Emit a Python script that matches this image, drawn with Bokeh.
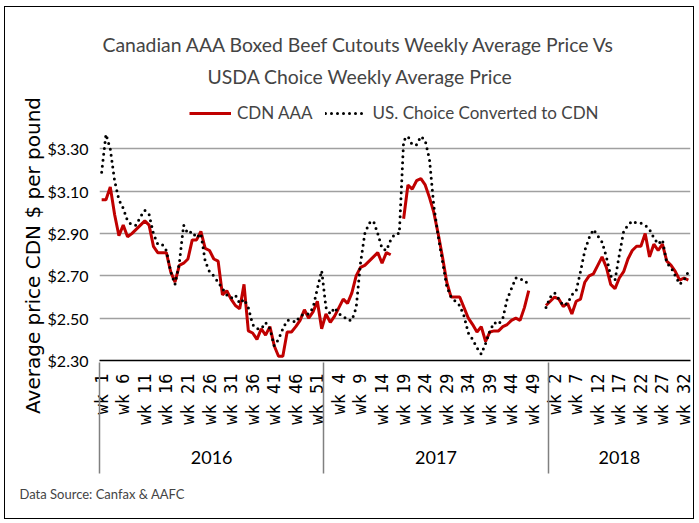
import math
import numpy as np
from bokeh.plotting import figure
from bokeh.models import (Range1d, LinearAxis, FixedTicker, NumeralTickFormatter,
                          Legend, LegendItem, Title)
from bokeh.embed import file_html
from bokeh.resources import INLINE

# ---------------- data ----------------
years = ["2016", "2017", "2018"]
weeks_per_year = [52, 52, 33]
y_ticks = [2.30, 2.50, 2.70, 2.90, 3.10, 3.30]

cdn_aaa_2016 = [3.06, 3.06, 3.12, 2.99, 2.89, 2.94, 2.885, 2.90, 2.92, 2.94,
                2.96, 2.94, 2.84, 2.81, 2.81, 2.81, 2.72, 2.67, 2.75, 2.76,
                2.78, 2.87, 2.87, 2.91, 2.83, 2.82, 2.78, 2.77, 2.61, 2.63,
                2.59, 2.56, 2.545, 2.66, 2.44, 2.43, 2.40, 2.45, 2.42, 2.46,
                2.37, 2.32, 2.32, 2.435, 2.435, 2.46, 2.49, 2.54, 2.50, 2.53,
                2.58, 2.45]
cdn_aaa_2017 = [2.52, 2.48, 2.51, 2.55, 2.59, 2.57, 2.62, 2.70, 2.74, 2.75,
                2.77, 2.79, 2.81, 2.76, 2.81, 2.80, None, None, 2.97, 3.13,
                3.11, 3.15, 3.16, 3.13, 3.07, 3.00, 2.90, 2.79, 2.67, 2.60,
                2.60, 2.60, 2.55, 2.50, 2.47, 2.435, 2.46, 2.39, 2.435, 2.44,
                2.44, 2.46, 2.47, 2.49, 2.50, 2.49, 2.55, 2.63, None, None,
                None, 2.56]
cdn_aaa_2018 = [2.58, 2.60, 2.59, 2.555, 2.57, 2.52, 2.58, 2.59, 2.67, 2.70,
                2.71, 2.75, 2.79, 2.74, 2.66, 2.64, 2.69, 2.72, 2.78, 2.82,
                2.84, 2.84, 2.90, 2.79, 2.85, 2.82, 2.85, 2.77, 2.75, 2.72,
                2.68, 2.69, 2.68]

us_choice_2016 = [3.19, 3.37, 3.30, 3.15, 3.06, 3.02, 2.96, 2.94, 2.94, 2.98,
                  3.01, 2.99, 2.90, 2.85, 2.85, 2.82, 2.72, 2.66, 2.76, 2.94,
                  2.90, 2.91, 2.88, 2.90, 2.77, 2.72, 2.70, 2.67, 2.64, 2.61,
                  2.595, 2.61, 2.57, 2.59, 2.55, 2.47, 2.45, 2.45, 2.48, 2.45,
                  2.37, 2.40, 2.45, 2.49, 2.49, 2.48, 2.51, 2.52, 2.52, 2.55,
                  2.64, 2.725]
us_choice_2017 = [2.55, 2.52, 2.55, 2.52, 2.51, 2.49, 2.49, 2.55, 2.76, 2.90,
                  2.95, 2.96, 2.90, 2.83, 2.82, 2.87, 2.90, 2.90, 3.34, 3.36,
                  3.32, 3.32, 3.36, 3.34, 3.25, 3.03, 2.89, 2.77, 2.65, 2.60,
                  2.58, 2.56, 2.51, 2.43, 2.40, 2.36, 2.33, 2.38, 2.44, 2.48,
                  2.47, 2.50, 2.59, 2.64, 2.69, 2.69, 2.67, 2.67, None, None,
                  None, 2.55]
us_choice_2018 = [2.60, 2.62, 2.59, 2.56, 2.57, 2.61, 2.63, 2.72, 2.82, 2.88,
                  2.92, 2.89, 2.86, 2.79, 2.70, 2.68, 2.80, 2.91, 2.94, 2.96,
                  2.95, 2.95, 2.94, 2.92, 2.88, 2.85, 2.87, 2.76, 2.74, 2.70,
                  2.66, 2.68, 2.72]

# ---------------- derived ----------------
categories = [(yr, "wk %d" % w) for yr, n in zip(years, weeks_per_year)
              for w in range(1, n + 1)]
n_total = len(categories)
x = np.arange(n_total)


def to_arr(*parts):
    vals = [v for part in parts for v in part]
    return np.array([np.nan if v is None else v for v in vals], dtype=float)


cdn = to_arr(cdn_aaa_2016, cdn_aaa_2017, cdn_aaa_2018)
us = to_arr(us_choice_2016, us_choice_2017, us_choice_2018)

label_idx = list(range(0, n_total, 5))
edges = [float(b) for b in (np.cumsum([0] + weeks_per_year) - 0.5)]
bounds = edges[:-1]
group_centers = [(edges[i] + edges[i + 1]) / 2 for i in range(len(years))]

FONT = "Lato"
W, H = 690, 513
NB = "\u00a0"

p = figure(width=W, height=H, output_backend="svg", toolbar_location=None,
           x_range=Range1d(-0.5, n_total - 0.5),
           y_range=Range1d(2.30, 3.534),
           min_border_left=94, min_border_right=5,
           min_border_top=92, min_border_bottom=160)
p.title.text = ""
p.title.visible = False
p.styles = {"margin-left": "4px", "margin-top": "6px",
            "border": "1.5px solid #000000"}
p.outline_line_color = None
p.background_fill_color = "white"
p.border_fill_color = "white"

r_cdn = p.line(x, cdn, line_color="#C00000", line_width=3)
r_us = p.line(x, us, line_color="black", line_width=3, line_dash="0 6",
              line_cap="round")

# y axis
p.yaxis.ticker = FixedTicker(ticks=y_ticks)
p.yaxis.formatter = NumeralTickFormatter(format="$0.00")
p.yaxis.axis_line_color = None
p.yaxis.major_tick_line_color = None
p.yaxis.minor_tick_line_color = None
p.yaxis.major_label_standoff = 5
p.yaxis.major_label_text_font = FONT
p.yaxis.major_label_text_font_size = "16px"
p.yaxis.major_label_text_color = "black"
p.yaxis.axis_label = "Average price CDN $ per pound" + NB * 8
p.yaxis.axis_label_text_font = "DejaVu Sans"
p.yaxis.axis_label_text_font_size = "20px"
p.yaxis.axis_label_text_font_style = "normal"
p.yaxis.axis_label_text_color = "black"
p.yaxis.axis_label_standoff = 0

p.ygrid.ticker = FixedTicker(ticks=y_ticks)
p.ygrid.grid_line_color = "#a0a0a0"
p.ygrid.grid_line_width = 1.5
p.xgrid.visible = False

# week axis
xa = p.xaxis[0]
xa.ticker = FixedTicker(ticks=label_idx)
xa.major_label_overrides = {i: categories[i][1] for i in label_idx}
xa.major_label_orientation = math.pi / 2
xa.major_tick_line_color = None
xa.major_tick_out = 0
xa.major_tick_in = 0
xa.minor_tick_line_color = None
xa.axis_line_color = "black"
xa.axis_line_width = 1.5
xa.major_label_standoff = 13
xa.major_label_text_font = "DejaVu Sans Mono"
xa.major_label_text_font_size = "17px"
xa.major_label_text_color = "black"

# year axis (group labels + separators reaching up to the frame)
ya = LinearAxis(ticker=FixedTicker(ticks=group_centers, minor_ticks=bounds),
                major_label_overrides={c: yr for c, yr in zip(group_centers, years)})
ya.axis_line_color = None
ya.major_tick_line_color = None
ya.major_tick_out = 0
ya.major_tick_in = 0
ya.minor_tick_line_color = "#808080"
ya.minor_tick_line_width = 1.5
ya.minor_tick_in = 65
ya.minor_tick_out = 46
ya.major_label_standoff = -23
ya.major_label_text_font = FONT
ya.major_label_text_font_size = "18px"
ya.major_label_text_color = "black"
p.add_layout(ya, "below")

# data source
p.add_layout(Title(text="Data Source: Canfax & AAFC", align="left", offset=-80,
                   text_font=FONT, text_font_size="13px",
                   text_font_style="normal", standoff=35), "below")

# legend (inside the top strip of the frame)
legend = Legend(items=[LegendItem(label="CDN AAA", renderers=[r_cdn]),
                       LegendItem(label="US. Choice Converted to CDN", renderers=[r_us])],
                orientation="horizontal", location=(90, 237),
                glyph_width=42, glyph_height=18, label_standoff=6, spacing=12,
                label_text_font=FONT, label_text_font_size="17px",
                background_fill_alpha=0, border_line_color=None,
                padding=0, margin=0)
p.add_layout(legend, "center")

p.add_layout(Title(text="USDA Choice Weekly Average Price", align="left", offset=108,
                   text_font=FONT, text_font_size="19.4px", text_font_style="normal",
                   standoff=23), "above")
p.add_layout(Title(text="Canadian AAA Boxed Beef Cutouts Weekly Average Price Vs",
                   align="left", offset=3,
                   text_font=FONT, text_font_size="19.4px", text_font_style="normal",
                   standoff=-8), "above")

open("out.html", "w").write(file_html(p, INLINE))
